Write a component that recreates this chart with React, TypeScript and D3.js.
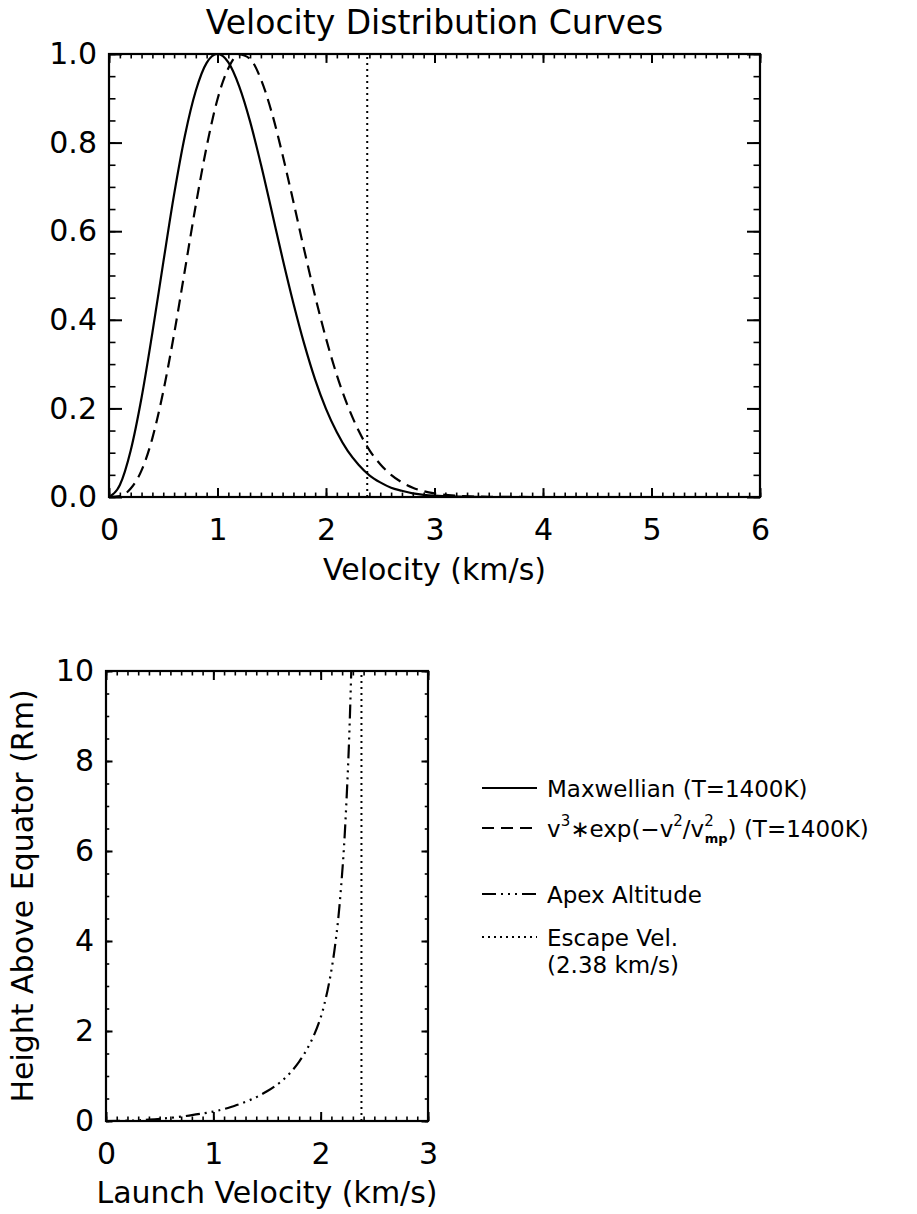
import * as d3 from 'd3';
import { useEffect, useRef } from 'react';

// top panel: normalised distributions vs velocity (km/s)
const velocity = [0, 0.1, 0.2, 0.3, 0.4, 0.5, 0.6, 0.7, 0.8, 0.9, 1.0, 1.1, 1.2, 1.3, 1.4, 1.5, 1.6, 1.7, 1.8, 1.9, 2.0, 2.1, 2.2, 2.3, 2.4, 2.5, 2.6, 2.7, 2.8, 2.9, 3.0, 3.2, 3.5, 4.0, 5.0, 6.0];
const maxwellian = [0, 0.027, 0.105, 0.224, 0.371, 0.529, 0.683, 0.816, 0.917, 0.98, 1.0, 0.981, 0.927, 0.848, 0.751, 0.645, 0.538, 0.437, 0.345, 0.265, 0.199, 0.146, 0.104, 0.073, 0.049, 0.033, 0.021, 0.014, 0.008, 0.005, 0.003, 0.001, 0, 0, 0, 0];
const v3exp = [0, 0.002, 0.019, 0.06, 0.133, 0.238, 0.368, 0.513, 0.659, 0.791, 0.898, 0.968, 0.999, 0.989, 0.943, 0.868, 0.772, 0.666, 0.557, 0.453, 0.358, 0.275, 0.206, 0.15, 0.106, 0.074, 0.05, 0.033, 0.021, 0.013, 0.008, 0.003, 0.0005, 0, 0, 0];

// bottom panel: apex altitude (Rm) vs launch velocity (km/s)
const launchVel = [0, 0.2, 0.4, 0.6, 0.8, 1.0, 1.2, 1.4, 1.5, 1.6, 1.7, 1.8, 1.9, 2.0, 2.05, 2.1, 2.15, 2.2, 2.25, 2.285];
const apexHeight = [0, 0.007, 0.03, 0.07, 0.13, 0.21, 0.34, 0.53, 0.66, 0.82, 1.03, 1.32, 1.72, 2.3, 2.75, 3.35, 4.2, 5.5, 7.6, 10];

const escapeVel = 2.38;

const topXTicks = [0, 1, 2, 3, 4, 5, 6];
const topYTicks = [0, 0.2, 0.4, 0.6, 0.8, 1.0];
const botXTicks = [0, 1, 2, 3];
const botYTicks = [0, 2, 4, 6, 8, 10];

const FONT = 'DejaVu Sans, sans-serif';
const DASHED = '12,7';
const DOTTED = '2,4';
const DASH3DOT = '14,5,2,5,2,5,2,5';

function drawAxes(svg: any, x: any, y: any, xMajor: number[], xMinor: number[], yMajor: number[], yMinor: number[], yFmt: (d: any) => string, xLen: number, yLen: number) {
  const [xa, xb] = x.range();
  const [yb, yt] = y.range();
  const none = () => '';

  const styleAxis = (g: any, sw: number) => {
    g.select('.domain').remove();
    g.selectAll('line').attr('stroke', '#000').attr('stroke-width', sw);
    g.selectAll('text').attr('font-family', FONT).attr('font-size', 30).attr('fill', '#000');
  };

  // bottom
  svg.append('g').attr('transform', `translate(0,${yb})`)
    .call(d3.axisBottom(x).tickValues(xMinor).tickSize(-xLen / 2).tickFormat(none))
    .call((g: any) => styleAxis(g, 1.6));
  svg.append('g').attr('transform', `translate(0,${yb})`)
    .call(d3.axisBottom(x).tickValues(xMajor).tickSize(-xLen).tickPadding(22).tickFormat(d3.format('d')))
    .call((g: any) => styleAxis(g, 2));
  // top
  svg.append('g').attr('transform', `translate(0,${yt})`)
    .call(d3.axisTop(x).tickValues(xMinor).tickSize(-xLen / 2).tickFormat(none))
    .call((g: any) => styleAxis(g, 1.6));
  svg.append('g').attr('transform', `translate(0,${yt})`)
    .call(d3.axisTop(x).tickValues(xMajor).tickSize(-xLen).tickFormat(none))
    .call((g: any) => styleAxis(g, 2));
  // left
  svg.append('g').attr('transform', `translate(${xa},0)`)
    .call(d3.axisLeft(y).tickValues(yMinor).tickSize(-yLen / 2).tickFormat(none))
    .call((g: any) => styleAxis(g, 1.6));
  svg.append('g').attr('transform', `translate(${xa},0)`)
    .call(d3.axisLeft(y).tickValues(yMajor).tickSize(-yLen).tickPadding(12).tickFormat(yFmt))
    .call((g: any) => styleAxis(g, 2));
  // right
  svg.append('g').attr('transform', `translate(${xb},0)`)
    .call(d3.axisRight(y).tickValues(yMinor).tickSize(-yLen / 2).tickFormat(none))
    .call((g: any) => styleAxis(g, 1.6));
  svg.append('g').attr('transform', `translate(${xb},0)`)
    .call(d3.axisRight(y).tickValues(yMajor).tickSize(-yLen).tickFormat(none))
    .call((g: any) => styleAxis(g, 2));

  svg.append('rect')
    .attr('x', xa).attr('y', yt)
    .attr('width', xb - xa).attr('height', yb - yt)
    .attr('fill', 'none').attr('stroke', '#000').attr('stroke-width', 2.2);
}

export default function App() {
  const ref = useRef<SVGSVGElement>(null);

  useEffect(() => {
    const svg = d3.select(ref.current);
    svg.selectAll('*').remove();

    // Title
    svg.append('text')
      .attr('x', 434.5).attr('y', 34)
      .attr('text-anchor', 'middle')
      .attr('font-family', FONT).attr('font-size', 33)
      .text('Velocity Distribution Curves');

    // ---------- top panel ----------
    const x1 = d3.scaleLinear().domain([0, 6]).range([109, 760]);
    const y1 = d3.scaleLinear().domain([0, 1]).range([497, 54]);

    svg.append('clipPath').attr('id', 'clipTop')
      .append('rect').attr('x', 109).attr('y', 54).attr('width', 651).attr('height', 443);

    const line1 = d3.line<number>()
      .x((_, i) => x1(velocity[i]))
      .curve(d3.curveMonotoneX);

    const topG = svg.append('g').attr('clip-path', 'url(#clipTop)');
    topG.append('path')
      .attr('d', line1.y((d) => y1(d))(maxwellian))
      .attr('fill', 'none').attr('stroke', '#000').attr('stroke-width', 2.2);
    topG.append('path')
      .attr('d', line1.y((d) => y1(d))(v3exp))
      .attr('fill', 'none').attr('stroke', '#000').attr('stroke-width', 2.2)
      .attr('stroke-dasharray', DASHED);
    topG.append('line')
      .attr('x1', x1(escapeVel)).attr('x2', x1(escapeVel))
      .attr('y1', y1(0)).attr('y2', y1(1))
      .attr('stroke', '#000').attr('stroke-width', 2)
      .attr('stroke-dasharray', DOTTED);

    drawAxes(svg, x1, y1, topXTicks, d3.range(0, 6.001, 0.1), topYTicks, d3.range(0, 1.001, 0.05), d3.format('.1f'), 8.9, 13);

    svg.append('text')
      .attr('x', 434.5).attr('y', 580)
      .attr('text-anchor', 'middle')
      .attr('font-family', FONT).attr('font-size', 30)
      .text('Velocity (km/s)');

    // ---------- bottom panel ----------
    const x2 = d3.scaleLinear().domain([0, 3]).range([106, 428]);
    const y2 = d3.scaleLinear().domain([0, 10]).range([1121, 671]);

    svg.append('clipPath').attr('id', 'clipBot')
      .append('rect').attr('x', 106).attr('y', 671).attr('width', 322).attr('height', 450);

    const botG = svg.append('g').attr('clip-path', 'url(#clipBot)');
    const line2 = d3.line<number>()
      .x((d) => x2(d))
      .y((_, i) => y2(apexHeight[i]))
      .curve(d3.curveMonotoneY);
    botG.append('path')
      .attr('d', line2(launchVel))
      .attr('fill', 'none').attr('stroke', '#000').attr('stroke-width', 2.2)
      .attr('stroke-dasharray', DASH3DOT);
    botG.append('line')
      .attr('x1', x2(escapeVel)).attr('x2', x2(escapeVel))
      .attr('y1', y2(0)).attr('y2', y2(10))
      .attr('stroke', '#000').attr('stroke-width', 2)
      .attr('stroke-dasharray', DOTTED);

    drawAxes(svg, x2, y2, botXTicks, d3.range(0, 3.001, 0.1), botYTicks, d3.range(0, 10.001, 0.5), d3.format('d'), 9, 6.5);

    svg.append('text')
      .attr('x', 267).attr('y', 1203)
      .attr('text-anchor', 'middle')
      .attr('font-family', FONT).attr('font-size', 30)
      .text('Launch Velocity (km/s)');
    svg.append('text')
      .attr('transform', 'translate(33,896) rotate(-90)')
      .attr('text-anchor', 'middle')
      .attr('font-family', FONT).attr('font-size', 30)
      .text('Height Above Equator (Rm)');

    // ---------- legend ----------
    const leg = svg.append('g').attr('font-family', FONT).attr('font-size', 23);
    const lx0 = 482, lx1 = 537, tx = 547;
    const rows = [
      { y: 788, dash: null },
      { y: 828, dash: DASHED },
      { y: 894, dash: DASH3DOT },
      { y: 937, dash: DOTTED },
    ];
    rows.forEach((r) => {
      const l = leg.append('line')
        .attr('x1', lx0).attr('x2', lx1).attr('y1', r.y).attr('y2', r.y)
        .attr('stroke', '#000').attr('stroke-width', 2);
      if (r.dash) l.attr('stroke-dasharray', r.dash);
    });
    leg.append('text').attr('x', tx).attr('y', 788 + 9).text('Maxwellian (T=1400K)');
    const f = leg.append('text').attr('x', tx).attr('y', 828 + 9);
    f.append('tspan').text('v');
    f.append('tspan').attr('font-size', 15).attr('dy', -11).text('3');
    f.append('tspan').attr('dy', 11).text('\u2217exp(\u2212v');
    f.append('tspan').attr('font-size', 15).attr('dy', -11).text('2');
    f.append('tspan').attr('dy', 11).text('/v');
    f.append('tspan').attr('font-size', 15).attr('dy', -11).text('2');
    f.append('tspan').attr('font-size', 13).attr('font-weight', 'bold').attr('dx', -9).attr('dy', 17).text('mp');
    f.append('tspan').attr('dy', -6).text(') (T=1400K)');
    leg.append('text').attr('x', tx).attr('y', 894 + 9).text('Apex Altitude');
    leg.append('text').attr('x', tx).attr('y', 937 + 9).text('Escape Vel.');
    leg.append('text').attr('x', tx).attr('y', 964 + 9).text('(2.38 km/s)');
  }, []);

  return (
    <div style={{ position: 'absolute', left: 0, top: 0 }}>
      <svg ref={ref} width={917} height={1214} style={{ display: 'block', background: '#fff' }} />
    </div>
  );
}
